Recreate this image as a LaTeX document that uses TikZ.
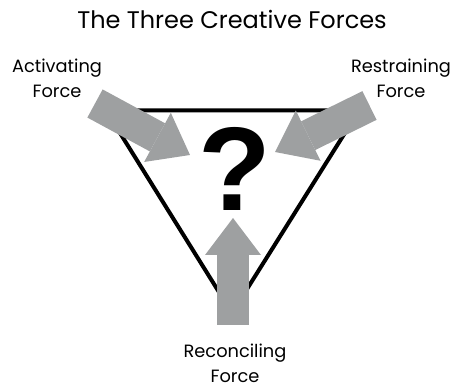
\documentclass[tikz,border=0pt]{standalone}
\usepackage{fontspec}
\setmainfont{Poppins}
\newfontfamily\markfont{Liberation Sans}
\usetikzlibrary{arrows.meta}
\definecolor{forcegray}{RGB}{158,160,161}

\begin{document}
\begin{tikzpicture}[x=1pt,y=1pt,
   force/.style={line width=32pt,forcegray,-{Triangle[width=56pt,length=37pt,line width=0pt]}},
   forcetext/.style={align=center,inner sep=0pt,anchor=north,font=\fontsize{17.8}{25}\selectfont}]
   \useasboundingbox (0,0) rectangle (458,388);
   \node (title) at (232,359) [anchor=base,inner sep=0pt,font=\fontsize{24}{28}\selectfont] {The Three Creative Forces};
   % the triangle
   \coordinate (corner1) at (106,277.5);
   \coordinate (corner2) at (359,277.5);
   \coordinate (corner3) at (232,75);
   \draw[line width=4pt] (corner1) -- (corner2) -- (corner3) -- cycle;
   \node (mark) at (235,219.5) [inner sep=0pt,font=\markfont\bfseries\fontsize{119}{119}\selectfont] {?};
   % the three forces
   \coordinate (tail1) at (95,284.5);
   \coordinate (tip1) at (190,233);
   \coordinate (tail2) at (369.5,282.5);
   \coordinate (tip2) at (275,236);
   \coordinate (tail3) at (233,63);
   \coordinate (tip3) at (233,170);
   \draw[force] (tail1) -- (tip1);
   \draw[force] (tail2) -- (tip2);
   \draw[force] (tail3) -- (tip3);
   \node (act) at (57,329) [forcetext] {Activating\\Force};
   \node (res) at (401,329) [forcetext] {Restraining\\Force};
   \node (rec) at (235,44) [forcetext] {Reconciling\\Force};
\end{tikzpicture}
\end{document}
